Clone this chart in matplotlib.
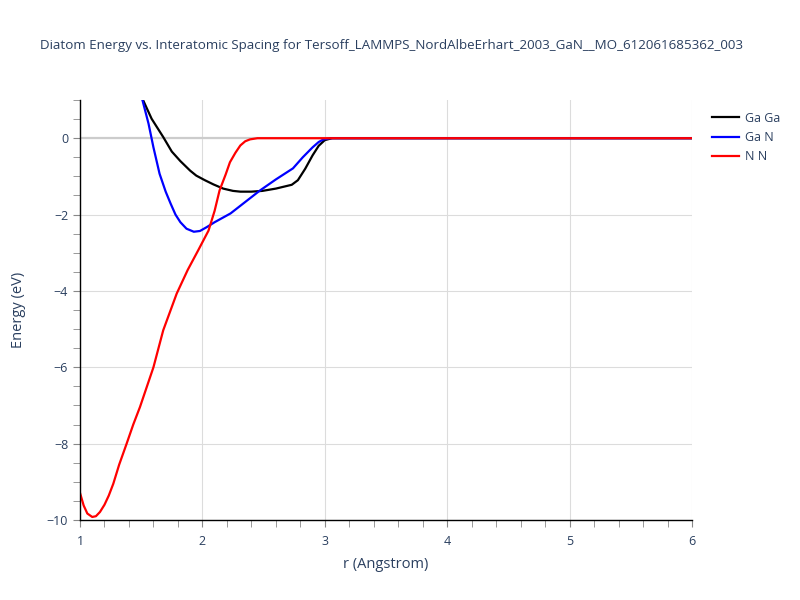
import numpy as np
import matplotlib.pyplot as plt
from matplotlib.ticker import MultipleLocator

# Diatom energy curves
gaga_r = [1.45, 1.515, 1.585, 1.68, 1.75, 1.82, 1.9, 1.95, 2.02, 2.09, 2.17, 2.25, 2.31,
          2.4, 2.49, 2.6, 2.73, 2.78, 2.84, 2.9, 2.95, 3.0, 3.06, 3.2, 6.0]
gaga_e = [1.45, 1.0, 0.51, 0.03, -0.35, -0.6, -0.85, -0.98, -1.1, -1.21, -1.32, -1.38, -1.40,
          -1.40, -1.38, -1.32, -1.22, -1.1, -0.8, -0.45, -0.2, -0.05, 0.0, 0.0, 0.0]

gan_r = [1.47, 1.51, 1.56, 1.6, 1.65, 1.7, 1.74, 1.78, 1.82, 1.87, 1.93, 1.98, 2.035, 2.1,
         2.23, 2.35, 2.47, 2.6, 2.74, 2.82, 2.9, 2.95, 2.99, 3.05, 3.2, 6.0]
gan_e = [1.5, 1.0, 0.38, -0.24, -0.93, -1.4, -1.71, -2.0, -2.2, -2.37, -2.45, -2.43, -2.33, -2.2,
         -1.97, -1.67, -1.37, -1.08, -0.79, -0.5, -0.24, -0.1, -0.03, 0.0, 0.0, 0.0]

nn_r = [1.0, 1.03, 1.06, 1.1, 1.13, 1.163, 1.2, 1.235, 1.272, 1.32, 1.381, 1.435, 1.49, 1.6, 1.68,
        1.79, 1.88, 1.965, 2.05, 2.1, 2.14, 2.19, 2.225, 2.27, 2.31, 2.35, 2.39, 2.45, 3.0, 6.0]
nn_e = [-9.29, -9.62, -9.83, -9.92, -9.9, -9.79, -9.6, -9.36, -9.05, -8.55, -8.0, -7.5, -7.04, -6.0, -5.03,
        -4.07, -3.45, -2.94, -2.42, -1.9, -1.37, -0.95, -0.63, -0.38, -0.19, -0.08, -0.03, 0.0, 0.0, 0.0]

plt.rcParams['font.family'] = ['Open Sans', 'DejaVu Sans']
txt = '#2a3f5f'

fig = plt.figure(figsize=(8, 6), dpi=100)
ax = fig.add_axes([0.1, 0.1333, 0.765, 0.7])

ax.plot(gaga_r, gaga_e, color='black', lw=1.6, label='Ga Ga')
ax.plot(gan_r, gan_e, color='blue', lw=1.6, label='Ga N')
ax.plot(nn_r, nn_e, color='red', lw=1.6, label='N N')

ax.set_xlim(1, 6)
ax.set_ylim(-10, 1)
ax.xaxis.set_major_locator(MultipleLocator(1))
ax.xaxis.set_minor_locator(MultipleLocator(0.2))
ax.yaxis.set_major_locator(MultipleLocator(2))
ax.yaxis.set_minor_locator(MultipleLocator(0.5))
ax.grid(True, which='major', color='#dcdcdc', lw=0.8)
ax.axhline(0, color='#cccccc', lw=1.6, zorder=1)
ax.set_axisbelow(True)

for s in ['top', 'right']:
    ax.spines[s].set_visible(False)
for s in ['left', 'bottom']:
    ax.spines[s].set_color('black')
    ax.spines[s].set_linewidth(1)

ax.tick_params(which='both', direction='out', length=5, color='#888888', labelcolor=txt,
               labelsize=9)
ax.tick_params(axis='x', pad=6)

ax.set_xlabel('r (Angstrom)', color=txt, fontsize=10.5, labelpad=6)
ax.set_ylabel('Energy (eV)', color=txt, fontsize=10.5, labelpad=15)

fig.text(0.05, 0.925, 'Diatom Energy vs. Interatomic Spacing for Tersoff_LAMMPS_NordAlbeErhart_2003_GaN__MO_612061685362_003',
         color=txt, fontsize=9.6, ha='left', va='center')

leg = ax.legend(loc='upper left', bbox_to_anchor=(1.02, 0.99), frameon=False, fontsize=9,
                labelcolor=txt, handlelength=2.2, handletextpad=0.5, borderaxespad=0.2)

fig.savefig('out.png', dpi=100)
